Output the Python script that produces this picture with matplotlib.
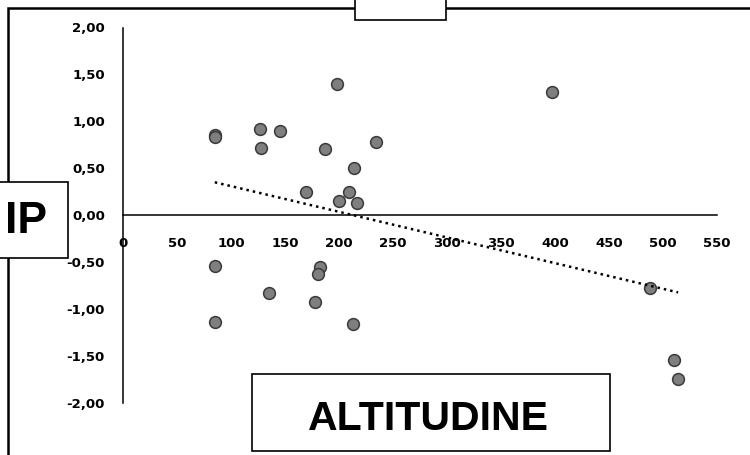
import numpy as np
import matplotlib
matplotlib.use("Agg")
import matplotlib.pyplot as plt
from matplotlib.patches import Rectangle
from matplotlib.ticker import FuncFormatter

# dati
altitudine = [85, 85, 127, 145, 128, 187, 234, 214, 169, 209, 200, 217,
              198, 397, 85, 182, 181, 135, 178, 85, 213, 488, 510, 514]
ip = [0.85, 0.83, 0.92, 0.90, 0.72, 0.71, 0.78, 0.50, 0.25, 0.25, 0.15, 0.13,
      1.40, 1.31, -0.54, -0.55, -0.63, -0.83, -0.92, -1.14, -1.16, -0.77,
      -1.54, -1.74]
x_ticks = [0, 50, 100, 150, 200, 250, 300, 350, 400, 450, 500, 550]
y_ticks = [-2.0, -1.5, -1.0, -0.5, 0.0, 0.5, 1.0, 1.5, 2.0]
titolo_x = "ALTITUDINE"
titolo_y = "IP"

W, H = 750, 455
box_font = ["Liberation Sans", "DejaVu Sans"]


def fx(px):
    return px / W


def fy(py):
    return 1 - py / H


fig = plt.figure(figsize=(7.5, 4.55), dpi=100)
ax = fig.add_axes([fx(123), fy(403), fx(717) - fx(123), fy(27.5) - fy(403)])

x = np.array(altitudine, dtype=float)
y = np.array(ip, dtype=float)

ax.scatter(x, y, s=72, color="#7f7f7f", edgecolors="#3a3a3a", linewidths=1.1, zorder=3)

# linea di tendenza lineare
coef = np.polyfit(x, y, 1)
xt = np.array([x.min(), x.max()])
ax.plot(xt, np.polyval(coef, xt), color="black", linewidth=1.8,
        linestyle=(0, (1, 1.6)), zorder=4)

ax.set_xlim(0, 550)
ax.set_ylim(-2, 2)
ax.set_xticks(x_ticks)
ax.set_yticks(y_ticks)
ax.yaxis.set_major_formatter(FuncFormatter(lambda v, p: f"{v:.2f}".replace(".", ",")))

for s in ["top", "right"]:
    ax.spines[s].set_visible(False)
ax.spines["bottom"].set_position(("data", 0))
ax.spines["left"].set_position(("data", 0))
for s in ["bottom", "left"]:
    ax.spines[s].set_linewidth(1.1)
    ax.spines[s].set_zorder(5)
ax.tick_params(axis="both", length=0, labelsize=9.5)
ax.tick_params(axis="x", pad=16)
ax.tick_params(axis="y", pad=13)
for lab in ax.get_xticklabels() + ax.get_yticklabels():
    lab.set_fontweight("bold")
    lab.set_zorder(2)

# cornice esterna
fig.add_artist(Rectangle((fx(8), fy(470)), fx(770) - fx(8), fy(8) - fy(470),
                         transform=fig.transFigure, fill=False,
                         edgecolor="black", linewidth=1.8, clip_on=False))

# riquadri
def riquadro(x0, x1, y0, y1, testo=None, size=30, tx=None, base=None):
    fig.add_artist(Rectangle((fx(x0), fy(y1)), fx(x1) - fx(x0), fy(y0) - fy(y1),
                             transform=fig.transFigure, facecolor="white",
                             edgecolor="black", linewidth=1.2, clip_on=False))
    if testo:
        fig.text(fx(tx), fy(base), testo, ha="center", va="baseline",
                 fontsize=size, fontweight="bold", family=box_font)


riquadro(355, 446, -10, 20)
riquadro(-10, 68, 182, 258, titolo_y, 32, tx=26, base=233)
riquadro(252, 610, 374, 451, titolo_x, 29.5, tx=428, base=430)

fig.savefig("out.png", dpi=100)
